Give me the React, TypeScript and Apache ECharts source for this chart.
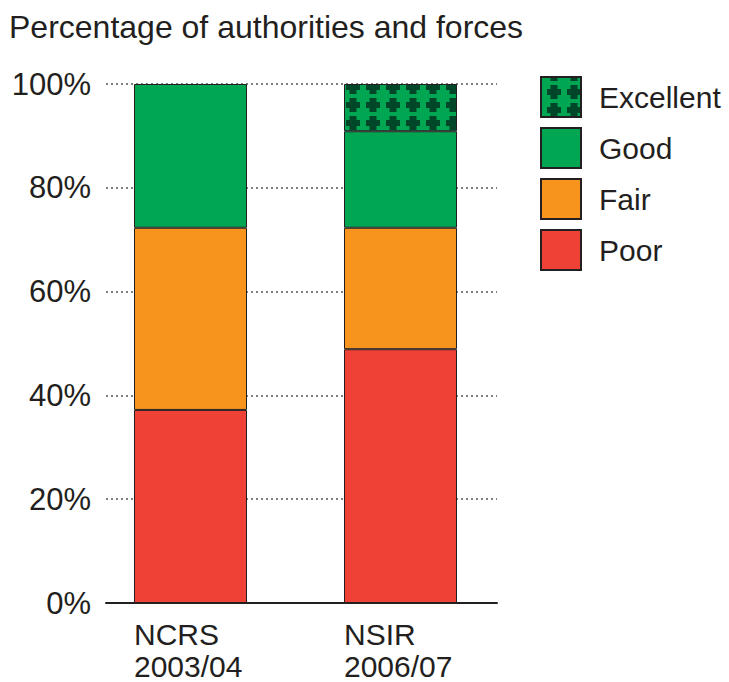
import React, { useEffect, useRef } from "react";
import * as echarts from "echarts";

const title = "Percentage of authorities and forces";
const categories = ["NCRS\n2003/04", "NSIR\n2006/07"];
const poor = [37.2, 48.9];
const fair = [35.1, 23.4];
const good = [27.7, 18.6];
const excellent: (number | string)[] = ["-", 9.1];
const yTicks = [0, 20, 40, 60, 80, 100];

const TEXT = "#231f20";
const FONT = "'Liberation Sans', Arial, Helvetica, sans-serif";

function makePattern() {
  const w = 20;
  const h = 18;
  const cx = 13;
  const cy = 15;
  const c = document.createElement("canvas");
  c.width = w;
  c.height = h;
  const ctx = c.getContext("2d")!;
  ctx.fillStyle = "#00a651";
  ctx.fillRect(0, 0, w, h);
  ctx.fillStyle = "#00472a";
  for (const dx of [-w, 0, w]) {
    for (const dy of [-h, 0, h]) {
      const x = cx + dx;
      const y = cy + dy;
      ctx.fillRect(x - 7, y - 3, 14, 6);
      ctx.fillRect(x - 3.5, y - 7, 7, 14);
    }
  }
  return { image: c, repeat: "repeat", imageWidth: w, imageHeight: h } as any;
}

export default function App() {
  const ref = useRef<HTMLDivElement>(null);
  useEffect(() => {
    if (!ref.current) return;
    const chart = echarts.init(ref.current, undefined, { renderer: "svg" });
    const border = { borderColor: TEXT, borderWidth: 1 };
    const gridTop = 84;
    const gridHeight = 519;
    chart.setOption({
      animation: false,
      textStyle: { fontFamily: FONT },
      title: {
        text: title,
        left: 9,
        top: 9,
        padding: 0,
        textStyle: { fontSize: 32, fontWeight: "normal", color: TEXT, fontFamily: FONT, lineHeight: 36 },
      },
      legend: {
        orient: "vertical",
        left: 540,
        top: 76,
        padding: 0,
        itemWidth: 40,
        itemHeight: 40,
        itemGap: 9,
        icon: "rect",
        data: ["Excellent", "Good", "Fair", "Poor"],
        textStyle: { fontSize: 30, lineHeight: 34, color: TEXT, fontFamily: FONT, padding: [0, 0, 0, 13] },
      },
      grid: [
        { left: 85.5, width: 420, top: gridTop, height: gridHeight, outerBoundsMode: "none", containLabel: false },
        { left: 106, width: 391, top: gridTop, height: gridHeight, outerBoundsMode: "none", containLabel: false },
      ],
      xAxis: [
        {
          type: "category",
          gridIndex: 0,
          data: categories,
          axisLine: { show: false },
          axisTick: { show: false },
          axisLabel: {
            margin: 15,
            align: "center",
            formatter: (v: string) => v.split("\n").map((s) => `{a|${s}}`).join("\n"),
            rich: {
              a: { width: 113, align: "left", fontSize: 30, lineHeight: 32, color: TEXT, fontFamily: FONT },
            },
          },
        },
        {
          type: "value",
          gridIndex: 1,
          min: 0,
          max: 1,
          axisLine: { show: true, lineStyle: { color: TEXT, width: 2 } },
          axisTick: { show: false },
          axisLabel: { show: false },
          splitLine: { show: false },
        },
      ],
      yAxis: [
        { type: "value", gridIndex: 0, min: 0, max: 100, show: false },
        {
          type: "value",
          gridIndex: 1,
          min: yTicks[0],
          max: yTicks[yTicks.length - 1],
          interval: 20,
          axisLine: { show: false },
          axisTick: { show: false },
          axisLabel: {
            formatter: "{value}%",
            fontSize: 31,
            color: TEXT,
            margin: 15,
            fontFamily: FONT,
          },
          splitLine: { show: true, lineStyle: { color: "#555", width: 1.5, type: [2, 3] } },
        },
      ],
      series: [
        { name: "Poor", type: "bar", stack: "s", barWidth: 113, data: poor, itemStyle: { color: "#ef4136", ...border } },
        { name: "Fair", type: "bar", stack: "s", barWidth: 113, data: fair, itemStyle: { color: "#f7941d", ...border } },
        { name: "Good", type: "bar", stack: "s", barWidth: 113, data: good, itemStyle: { color: "#00a651", ...border } },
        { name: "Excellent", type: "bar", stack: "s", barWidth: 113, data: excellent, itemStyle: { color: makePattern(), ...border } },
      ],
    });
    return () => chart.dispose();
  }, []);
  return <div ref={ref} style={{ position: "absolute", left: 0, top: 0, width: 729, height: 682 }} />;
}
